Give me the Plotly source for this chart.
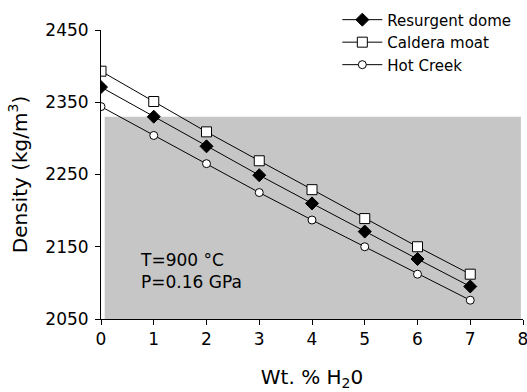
import plotly.graph_objects as go

water = [0, 1, 2, 3, 4, 5, 6, 7]
resurgent_dome = [2371, 2330, 2289, 2249, 2210, 2171, 2133, 2095]
caldera_moat = [2393, 2351, 2309, 2269, 2229, 2189, 2150, 2112]
hot_creek = [2344, 2304, 2265, 2225, 2187, 2150, 2112, 2076]

x_ticks = [0, 1, 2, 3, 4, 5, 6, 7, 8]
y_ticks = [2050, 2150, 2250, 2350, 2450]

FONT = "DejaVu Sans, Liberation Sans, Arial, sans-serif"

fig = go.Figure()

series = [
    ("Resurgent dome", resurgent_dome, "diamond", "black", 10),
    ("Caldera moat", caldera_moat, "square", "white", 10),
    ("Hot Creek", hot_creek, "circle", "white", 8),
]
for name, vals, sym, fill, size in series:
    fig.add_trace(go.Scatter(
        x=water, y=vals, name=name, mode="lines+markers",
        line=dict(color="black", width=1),
        marker=dict(symbol=sym, size=size, color=fill,
                    line=dict(color="black", width=1)),
    ))

# shaded field behind the curves
fig.add_shape(type="rect", xref="x", yref="y", x0=0.07, x1=7.96, y0=2050, y1=2330,
              fillcolor="#c6c6c6", line=dict(width=0), layer="below")

fig.add_annotation(x=0.70, y=2116, xref="x", yref="y", text="T=900 °C<br>P=0.16 GPa",
                   showarrow=False, xanchor="left", yanchor="middle", align="left",
                   font=dict(family=FONT, size=17, color="black"))

axis_common = dict(showgrid=False, zeroline=False, showline=True, linecolor="black",
                   linewidth=1, ticks="outside", ticklen=5, tickcolor="black",
                   ticklabeloverflow="allow",
                   tickfont=dict(family=FONT, size=17, color="black"))

fig.update_xaxes(range=[0, 8], tickvals=x_ticks, **axis_common,
                 title=dict(text="Wt. % H<sub>2</sub>0", standoff=21,
                            font=dict(family=FONT, size=20, color="black")))
fig.update_yaxes(range=[2050, 2450], tickvals=y_ticks, **axis_common,
                 ticklabelstandoff=3,
                 title=dict(text="Density (kg/m<sup>3</sup>)", standoff=12,
                            font=dict(family=FONT, size=20, color="black")))

fig.update_layout(
    width=527, height=392,
    margin=dict(l=101, r=4, t=30, b=73, autoexpand=False),
    plot_bgcolor="white", paper_bgcolor="white",
    showlegend=True,
    legend=dict(x=0.56, y=1.092, xanchor="left", yanchor="top",
                bgcolor="rgba(0,0,0,0)", itemwidth=40, tracegroupgap=0,
                font=dict(family=FONT, size=15, color="black")),
)

fig.write_html("out.html")
